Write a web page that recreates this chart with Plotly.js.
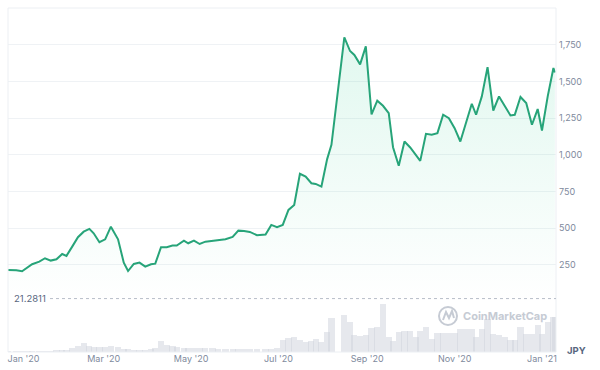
<!DOCTYPE html>
<html>
<head>
<meta charset="utf-8">
<script src="https://cdn.plot.ly/plotly-3.0.1.min.js"></script>
<style>
html,body{margin:0;padding:0;background:#fff;}
#chart{width:600px;height:370px;}
</style>
</head>
<body>
<div id="chart"></div>
<script>
var dates = ['2019-12-25','2019-12-31','2020-01-04','2020-01-08','2020-01-11','2020-01-16','2020-01-20','2020-01-24','2020-01-28','2020-02-01',
'2020-02-04','2020-02-08','2020-02-12','2020-02-16','2020-02-20','2020-02-23','2020-02-27','2020-03-02','2020-03-06','2020-03-11',
'2020-03-15','2020-03-18','2020-03-22','2020-03-26','2020-03-30','2020-04-03','2020-04-06','2020-04-10','2020-04-14','2020-04-18',
'2020-04-21','2020-04-26','2020-04-29','2020-05-03','2020-05-07','2020-05-11','2020-05-16','2020-05-20','2020-05-25','2020-05-30',
'2020-06-03','2020-06-07','2020-06-11','2020-06-16','2020-06-22','2020-06-26','2020-06-30','2020-07-04','2020-07-08','2020-07-12',
'2020-07-16','2020-07-20','2020-07-24','2020-07-27','2020-07-31','2020-08-04','2020-08-07','2020-08-16','2020-08-20','2020-08-23',
'2020-08-27','2020-08-31','2020-09-04','2020-09-08','2020-09-12','2020-09-16','2020-09-19','2020-09-23','2020-09-27','2020-10-01',
'2020-10-05','2020-10-08','2020-10-12','2020-10-16','2020-10-20','2020-10-24','2020-10-28','2020-11-01','2020-11-05','2020-11-09',
'2020-11-13','2020-11-16','2020-11-20','2020-11-24','2020-11-28','2020-12-02','2020-12-06','2020-12-10','2020-12-13','2020-12-17',
'2020-12-21','2020-12-25','2020-12-29','2021-01-01','2021-01-05','2021-01-09','2021-01-10'];

var priceJPY = [216,214,207,234,255,273,296,280,289,325,
312,375,439,477,496,466,405,425,511,425,
266,209,257,266,239,255,259,371,371,382,
382,416,398,416,393,409,414,418,425,441,
484,482,475,453,457,523,507,523,625,659,
871,852,807,802,784,971,1068,1800,1707,1680,
1616,1739,1275,1369,1334,1284,1052,926,1091,1050,
1000,959,1143,1137,1148,1273,1250,1182,1091,1216,
1348,1273,1398,1597,1302,1398,1334,1268,1273,1394,
1353,1205,1312,1166,1398,1591,1561];

var volume = [0.5,0.5,0.5,1,1,1,1,1,1.5,1.5,
2,4,6,9,6,5,5,5,6,5,
3,3,2,2,2,3,4,11,7,6,
5,4,4,4,4,4,4,3,3,3,
3,3,3,3,3,3,4,12,14,15,
12,10,11,13,10,20,34,37,30,17,
16,17,24,25,48,15,11,20,21,21,
15,21,25,13,19,19,19,19,23,23,
23,15,23,33,18,17,15,12,12,25,
18,18,27,18,30,35,35];

var tickDates = ['2020-01-05','2020-03-01','2020-05-01','2020-07-01','2020-09-01','2020-11-01','2021-01-01'];
var tickLabels = ["Jan '20","Mar '20","May '20","Jul '20","Sep '20","Nov '20","Jan '21"];
var priceTicks = [250,500,750,1000,1250,1500,1750];
var baseline = 21.2811;

var green = '#27a479';
var grayText = '#808a9d';

var traces = [
  {
    type:'bar', x:dates, y:volume, xaxis:'x', yaxis:'y2',
    marker:{color:'rgba(205,210,220,0.5)', line:{width:0}},
    width: 4.3*86400000, hoverinfo:'skip'
  },
  {
    type:'scatter', mode:'lines', x:dates, y:priceJPY, xaxis:'x', yaxis:'y',
    line:{color:green, width:2},
    fill:'tozeroy',
    fillgradient:{type:'vertical', colorscale:[[0,'rgba(22,199,132,0.0)'],[1,'rgba(22,199,132,0.13)']]},
    hoverinfo:'skip'
  }
];

function px(p){return (p-8)/548;}
function py(p){return (352-p)/344;}

var layout = {
  width:600, height:370,
  margin:{l:8, r:44, t:8, b:18},
  paper_bgcolor:'#fff', plot_bgcolor:'#fff',
  showlegend:false,
  font:{family:'Inter, sans-serif', size:9, color:grayText},
  bargap:0,
  xaxis:{
    type:'date', range:['2019-12-25 04:00','2021-01-10 19:00'],
    tickvals:tickDates, ticktext:tickLabels,
    showgrid:false, zeroline:false, showline:false, ticks:'',
    anchor:'y2', tickfont:{size:9, color:grayText}
  },
  yaxis:{
    domain:[0.1462,1], range:[0,2000], side:'right',
    tickvals:priceTicks, tickformat:',d',
    showgrid:true, gridcolor:'#eff2f5', gridwidth:1,
    zeroline:false, showline:false, ticks:'',
    tickfont:{size:9, color:grayText}, ticklabelstandoff:2
  },
  yaxis2:{
    domain:[0,0.16], range:[0,55],
    showgrid:false, zeroline:false, showticklabels:false, showline:false, ticks:''
  },
  shapes:[
    {type:'rect', xref:'paper', yref:'paper', x0:0, x1:1, y0:0, y1:1, line:{color:'#eceff3', width:1}},
    {type:'line', xref:'paper', yref:'y', x0:px(44), x1:1, y0:baseline, y1:baseline, line:{color:'#b7bdc8', width:1, dash:'dot'}},
    {type:'circle', xref:'paper', yref:'paper', x0:px(439), x1:px(457), y0:py(325), y1:py(307), line:{color:'#c6cbd4', width:2}},
    {type:'path', xref:'paper', yref:'paper',
     path:'M '+px(443)+','+py(320)+' L '+px(446)+','+py(312)+' L '+px(449)+','+py(318)+' L '+px(452)+','+py(311)+' L '+px(454)+','+py(318),
     line:{color:'#c6cbd4', width:2}}
  ],
  annotations:[
    {xref:'paper', yref:'y', x:px(12), y:baseline, text:'21.2811', showarrow:false, xanchor:'left', yanchor:'middle',
     font:{size:9.5, color:'#58667e'}, bgcolor:'#fff'},
    {xref:'paper', yref:'paper', x:px(461), y:py(316), text:'<b>CoinMarketCap</b>', showarrow:false, xanchor:'left', yanchor:'middle',
     font:{size:11, color:'#c6cbd4'}},
    {xref:'paper', yref:'paper', x:px(565), y:py(350), text:'<b>JPY</b>', showarrow:false, xanchor:'left', yanchor:'middle',
     font:{size:9.5, color:'#58667e'}}
  ]
};

Plotly.newPlot('chart', traces, layout, {displayModeBar:false, staticPlot:true});
</script>
</body>
</html>
